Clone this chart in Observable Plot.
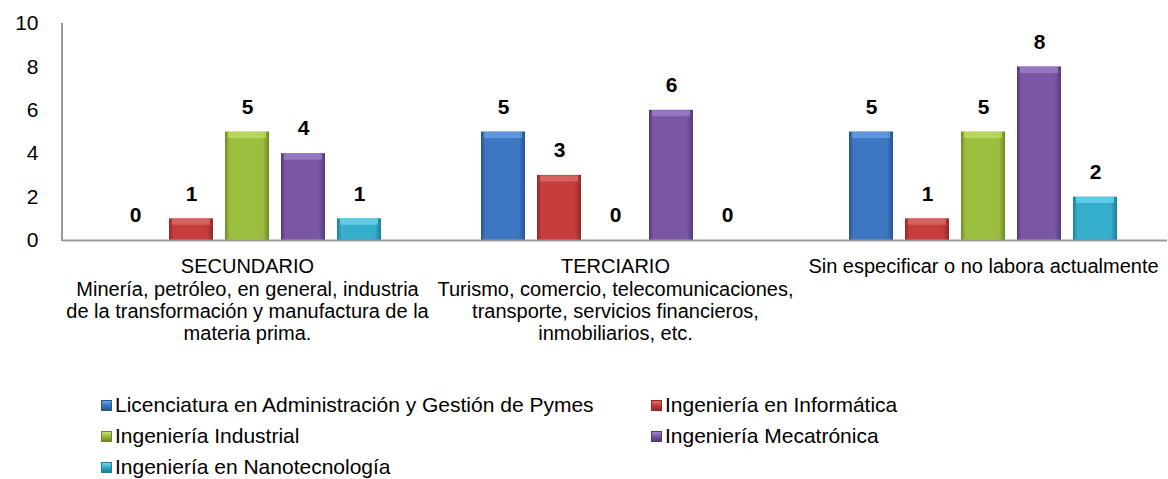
<!DOCTYPE html>
<html>
<head>
<meta charset="utf-8">
<script src="https://cdn.jsdelivr.net/npm/d3@7"></script>
<script src="https://cdn.jsdelivr.net/npm/@observablehq/plot@0.6"></script>
<style>
  html, body { margin: 0; padding: 0; background: #fff; }
  body { width: 1168px; height: 479px; overflow: hidden; font-family: "Liberation Sans", Arial, Helvetica, sans-serif; }
  #legend { position: relative; height: 119px; }
  .item { position: absolute; display: flex; align-items: center; font-size: 21px; color: #000; white-space: nowrap; line-height: 24px; }
  .sw { width: 11px; height: 11px; margin-right: 3px; box-sizing: border-box; }
</style>
</head>
<body>
<div id="chart"></div>
<div id="legend"></div>
<script>
// ---- data ----
const groups = ["SECUNDARIO", "TERCIARIO", "SIN"];
const groupLabels = [
  "SECUNDARIO\nMinería, petróleo, en general, industria\nde la transformación y manufactura de la\nmateria prima.",
  "TERCIARIO\nTurismo, comercio, telecomunicaciones,\ntransporte, servicios financieros,\ninmobiliarios, etc.",
  "Sin especificar o no labora actualmente"
];
const series = [
  "Licenciatura en Administración y Gestión de Pymes",
  "Ingeniería en Informática",
  "Ingeniería Industrial",
  "Ingeniería Mecatrónica",
  "Ingeniería en Nanotecnología"
];
const valuesSecundario = [0, 1, 5, 4, 1];
const valuesTerciario  = [5, 3, 0, 6, 0];
const valuesSin        = [5, 1, 5, 8, 2];
const yTicks = [0, 2, 4, 6, 8, 10];

// colours
const baseColors  = ["#3d76c2", "#c63e3c", "#9dbf3f", "#7b56a5", "#34aecb"];
const darkColors  = ["#2a5490", "#8f2a29", "#6d892a", "#533a77", "#1f7d94"];
const lightColors = ["#6aa6ea", "#e0706d", "#c3e068", "#a184cc", "#6fd8ef"];

const allValues = [valuesSecundario, valuesTerciario, valuesSin];
const data = [];
groups.forEach((g, gi) => series.forEach((s, si) => data.push({group: g, series: s, value: allValues[gi][si]})));
const labelOf = Object.fromEntries(groups.map((g, i) => [g, groupLabels[i]]));

const defs = () => {
  const d = d3.create("svg:defs");
  series.forEach((s, i) => {
    const lg = d.append("linearGradient").attr("id", "g" + i).attr("x1", 0).attr("x2", 1).attr("y1", 0).attr("y2", 0);
    lg.append("stop").attr("offset", "0").attr("stop-color", darkColors[i]);
    lg.append("stop").attr("offset", "0.1").attr("stop-color", baseColors[i]);
    lg.append("stop").attr("offset", "0.86").attr("stop-color", baseColors[i]);
    lg.append("stop").attr("offset", "1").attr("stop-color", darkColors[i]);
  });
  return d.node();
};

const font = '"Liberation Sans", Arial, Helvetica, sans-serif';
const chart = Plot.plot({
  width: 1168,
  height: 360,
  marginLeft: 62,
  marginRight: 1,
  marginTop: 23,
  marginBottom: 120,
  style: {fontFamily: font, background: "#fff", color: "#000"},
  fx: {domain: groups, padding: 0, label: null},
  x: {domain: series, paddingInner: 0.21, paddingOuter: 0.84, axis: null},
  y: {domain: [0, 10], axis: null},
  color: {domain: series, range: series.map((_, i) => `url(#g${i})`)},
  marks: [
    defs,
    Plot.axisY({ticks: yTicks, tickSize: 0, tickPadding: 25, fontSize: 21, label: null}),
    Plot.axisFx({anchor: "bottom", tickSize: 0, tickPadding: 17, fontSize: 20, lineHeight: 1.115, tickFormat: d => labelOf[d], label: null}),
    Plot.barY(data, {fx: "group", x: "series", y: "value", fill: "series"}),
    Plot.tickY(data.filter(d => d.value > 0), {fx: "group", x: "series", y: "value", stroke: d => lightColors[series.indexOf(d.series)], strokeWidth: 6, dy: 3, strokeOpacity: 0.7, insetLeft: 3, insetRight: 3}),
    Plot.ruleY([0], {stroke: "#9a9a9a", strokeWidth: 2}),
    Plot.text(data, {fx: "group", x: "series", y: "value", text: d => String(d.value), dy: -25, fontSize: 21, fontWeight: "bold", fill: "#000"})
  ]
});
document.getElementById("chart").appendChild(chart);

// left axis line
const ys = chart.scale("y");
d3.select(chart).append("line")
  .attr("x1", 62).attr("x2", 62)
  .attr("y1", ys.apply(10)).attr("y2", ys.apply(0) + 1)
  .attr("stroke", "#9a9a9a").attr("stroke-width", 2);

// legend
const legendPos = [[101, 33], [651, 33], [101, 64], [651, 64], [101, 95]];
const leg = document.getElementById("legend");
series.forEach((s, i) => {
  const it = document.createElement("div");
  it.className = "item";
  it.style.left = legendPos[i][0] + "px";
  it.style.top = legendPos[i][1] + "px";
  const sw = document.createElement("span");
  sw.className = "sw";
  sw.style.background = `linear-gradient(to bottom, ${lightColors[i]} 0%, ${baseColors[i]} 45%, ${darkColors[i]} 100%)`;
  sw.style.border = `1px solid ${darkColors[i]}`;
  const tx = document.createElement("span");
  tx.textContent = s;
  it.appendChild(sw); it.appendChild(tx);
  leg.appendChild(it);
});
</script>
</body>
</html>
